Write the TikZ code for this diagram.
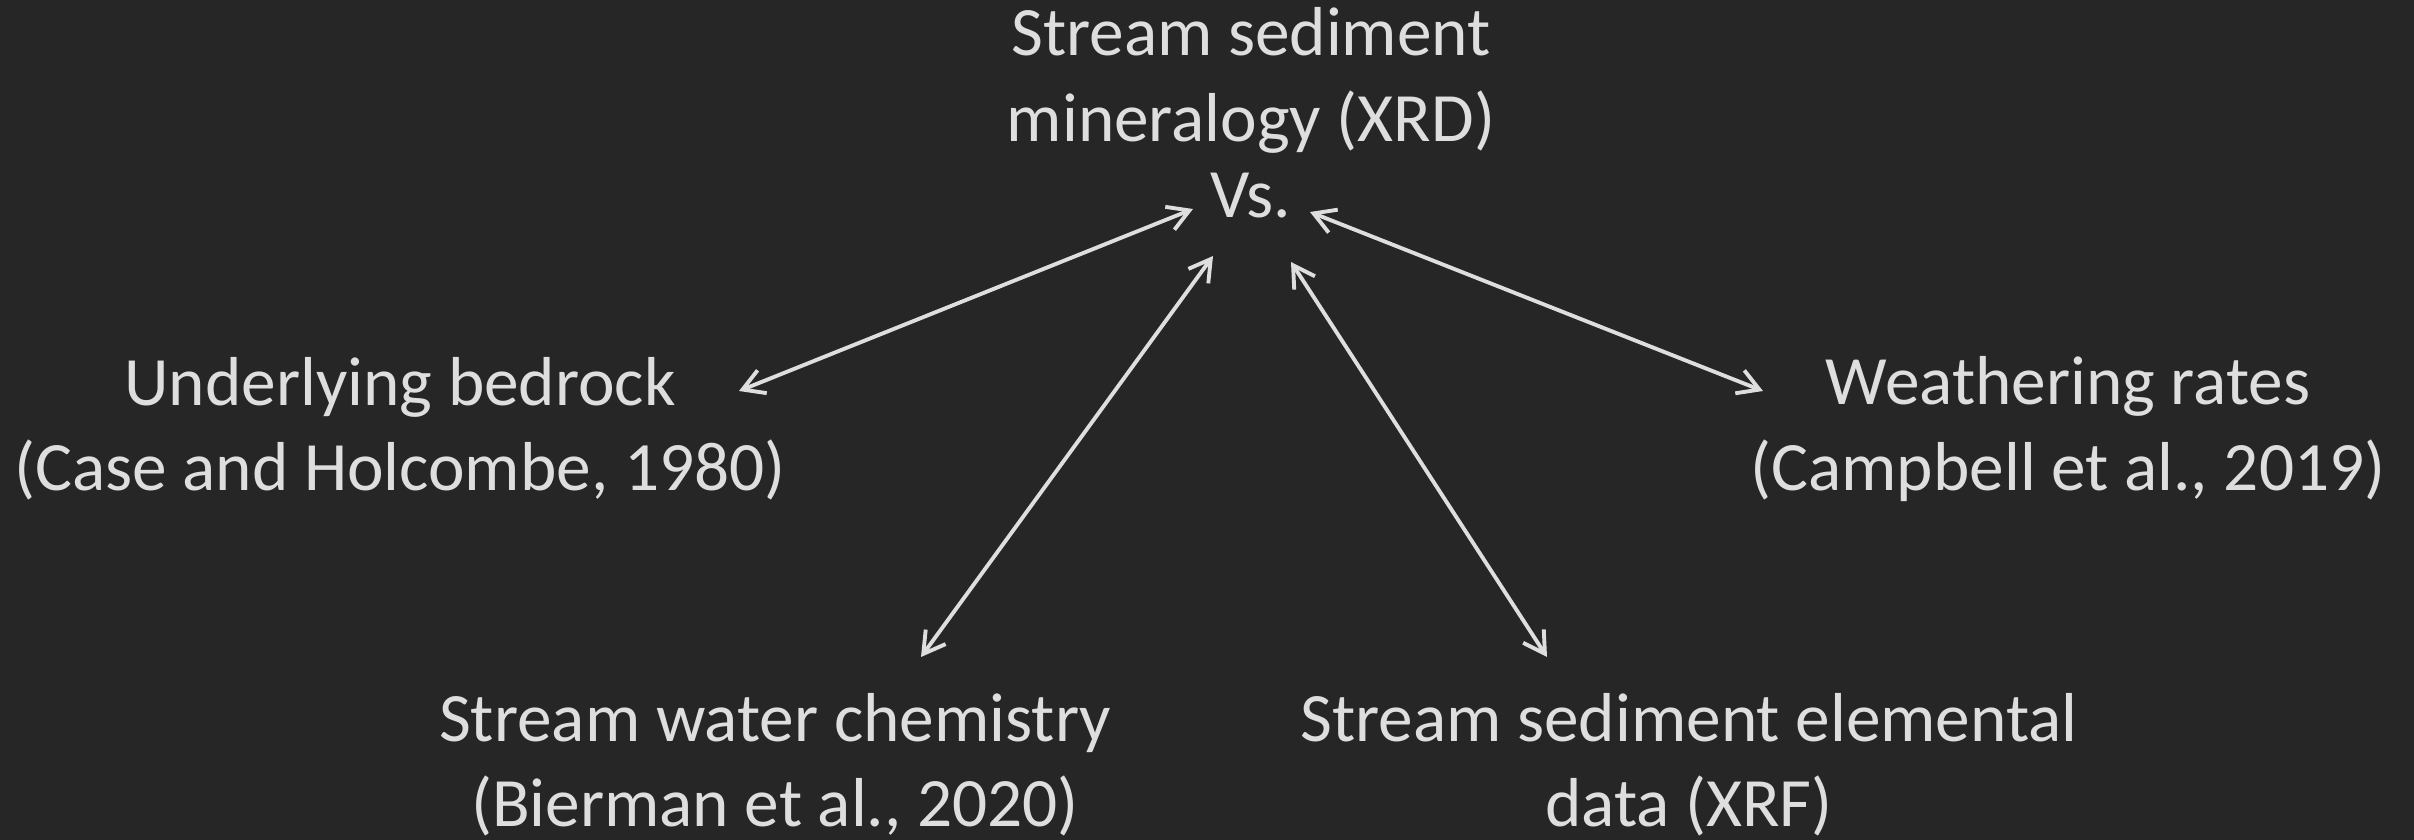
\documentclass[tikz,border=0pt]{standalone}
\usepackage{fontspec}
\setmainfont{Carlito}
\usetikzlibrary{arrows.meta}
\definecolor{bg}{RGB}{38,38,39}
\definecolor{fg}{RGB}{222,222,222}
\tikzset{
  lbl/.style={text=fg, align=center, inner sep=0pt,
    font=\fontsize{19.7pt}{24.3pt}\selectfont},
  barb/.tip={Straight Barb[length=6pt,width=7pt,line width=1.1pt]},
  link/.style={draw=fg, line width=1.1pt, barb-barb}
}
\begin{document}
\begin{tikzpicture}[x=0.01cm,y=-0.01cm]
\fill[bg] (0,0) rectangle (2414,840);
\useasboundingbox (0,0) rectangle (2414,840);
\node[lbl] (top) at (1251,113) {Stream sediment\\mineralogy (XRD)\\[-2.5pt]Vs.};
\node[lbl] (bed) at (400,429) {Underlying bedrock\\(Case and Holcombe, 1980)};
\node[lbl] (wea) at (2068,429) {Weathering rates\\(Campbell et al., 2019)};
\node[lbl] (wat) at (775,765) {Stream water chemistry\\(Bierman et al., 2020)};
\node[lbl] (ele) at (1689,765) {Stream sediment elemental\\data (XRF)};
\coordinate (bedE) at (739,391);
\coordinate (topA) at (1193,209);
\coordinate (watE) at (921,657);
\coordinate (topB) at (1213,256);
\coordinate (eleE) at (1547,657);
\coordinate (topC) at (1291,262);
\coordinate (weaE) at (1763,391);
\coordinate (topD) at (1310,212);
\draw[link] (bedE) -- (topA);
\draw[link] (watE) -- (topB);
\draw[link] (eleE) -- (topC);
\draw[link] (weaE) -- (topD);
\end{tikzpicture}
\end{document}
